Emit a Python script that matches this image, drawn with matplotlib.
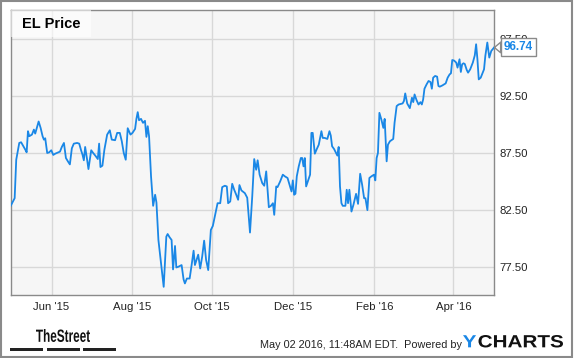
import matplotlib.pyplot as plt
import matplotlib.dates as mdates
from matplotlib.patches import Rectangle, PathPatch
from matplotlib.textpath import TextPath
from matplotlib.font_manager import FontProperties
from matplotlib.transforms import Affine2D, ScaledTranslation
import pandas as pd

# days since 2015-05-01
days = [0, 3.0, 4.2, 6.5, 7.9, 11.1, 12.1, 13.1, 14.1, 16.1, 17.6, 18.6, 19.6, 21.2, 22.7,
        24.2, 25.2, 26.2, 27.7, 29.2, 30.8, 32.3, 33.8, 37.4, 38.8, 40.4, 41.9, 43.4, 44.9,
        46.4, 47.9, 50.4, 52.0, 53.4, 54.5, 55.5, 56.5, 58.0, 59.0, 61.1, 62.6, 64.6, 66.1,
        67.1, 68.1, 69.6, 71.1, 73.2, 75.2, 76.7, 79.2, 80.8, 82.8, 84.3, 85.8, 87.3,
        88.8, 90.9, 92.4, 94.4, 95.4, 96.4, 97.4, 98.9, 100.4, 101.9, 103.0, 104.0, 105.0,
        106.5, 108.1, 109.6, 110.6, 112.1, 114.1, 116.1, 118.1, 119.1, 120.6, 122.1, 123.2,
        124.7, 125.7, 127.2, 129.7, 131.2, 132.2, 133.7, 135.8, 137.3, 138.8, 139.8, 141.3,
        142.3, 143.8, 145.3, 146.8, 148.3, 149.9, 151.9, 153.4, 155.4, 157.0, 159.0, 160.5,
        162.5, 164.0, 165.0, 166.6, 168.1, 169.6, 171.1, 172.6, 173.6, 175.1, 177.7, 179.5,
        181.6, 183.3, 184.8, 186.3, 187.4, 188.9, 190.9, 192.4, 193.9, 195.9, 197.5, 199.0,
        200.0, 201.5, 202.5, 204.5, 206.5, 208.1, 210.1, 211.6, 213.1, 214.1, 215.1, 216.1,
        217.1, 218.6, 220.2, 221.2, 222.2, 223.2, 224.2, 225.7, 227.2, 228.2, 229.2, 230.8,
        232.3, 233.8, 235.8, 236.8, 238.3, 240.3, 241.9, 242.9, 243.9, 245.4, 246.9, 247.9,
        248.9, 249.9, 251.0, 252.0, 254.0, 255.0, 256.0, 257.0, 258.6, 260.1, 262.1, 263.6,
        265.2, 266.7, 268.2, 269.2, 270.7, 272.2, 273.7, 275.7, 276.7, 277.7, 278.7, 279.8,
        281.3, 282.8, 283.8, 285.3, 286.3, 287.8, 290.3, 291.3, 292.9, 294.4, 297.4, 298.4,
        299.4, 300.9, 302.9, 304.5, 305.5, 306.5, 308.0, 309.5, 311.0, 312.0, 313.0, 314.0,
        315.6, 317.1, 318.6, 319.6, 320.6, 322.1, 323.6, 324.6, 325.6, 327.6, 330.1, 331.6,
        333.1, 334.1, 335.1, 336.6, 338.1, 339.1, 340.6, 341.6, 342.6, 343.6, 344.6, 346.1,
        347.1, 348.7, 350.7, 352.2, 353.2, 354.2, 355.2, 356.7, 358.2, 359.2, 360.2, 361.7,
        363.2, 364.7, 367]
price = [82.84, 83.51, 86.88, 88.35, 88.41, 87.76, 87.53, 89.38, 88.94, 89.08, 89.52, 89.17,
         89.58, 90.23, 89.67, 88.94, 88.64, 88.76, 87.47, 87.53, 87.71, 87.30, 87.41, 87.59,
         88.00, 88.35, 87.03, 86.74, 86.47, 87.88, 88.29, 88.35, 88.29, 87.71, 87.32, 86.83,
         88.00, 86.88, 86.06, 87.71, 87.47, 87.18, 86.94, 88.29, 86.24, 86.36, 87.76, 89.08,
         89.46, 88.64, 88.59, 89.23, 89.23, 88.50, 87.47, 86.88,
         89.64, 89.08, 89.23, 89.58, 90.46, 91.05, 90.34, 90.46, 90.11, 90.29, 88.88, 89.82,
         88.94, 85.42, 82.84, 83.81, 83.13, 79.85, 77.79, 75.74, 80.14, 80.37, 80.08, 79.85,
         77.27, 79.32, 77.44, 77.50, 77.65, 76.39, 76.04, 76.47, 76.47, 77.65, 78.91, 77.65,
         78.20, 78.56, 77.35, 78.38, 79.79, 78.09, 77.21, 80.73, 81.08, 82.19, 83.07, 83.07,
         84.48, 84.60, 84.54, 83.07, 83.22, 84.77, 84.25, 83.83, 83.37, 84.66, 84.19, 83.95,
         83.55, 80.50, 83.66, 86.94, 86.00, 86.83, 85.57, 84.83, 84.60, 85.86, 82.72, 82.84,
         83.07, 82.05, 84.54, 84.48, 84.98, 85.57, 85.42, 85.28, 84.69, 84.10, 85.07, 83.81,
         83.90, 85.42, 86.30, 87.03, 87.03, 86.30, 87.03, 84.54, 85.07, 85.57, 89.23, 89.23,
         87.41, 87.82, 88.20, 89.38, 88.79, 88.79, 88.70, 89.38, 89.00, 88.06, 87.82, 87.47,
         87.24, 88.00, 84.54, 83.07, 82.84, 82.84, 84.25, 83.07, 84.25, 82.34, 82.93, 83.89,
         83.01, 85.65, 84.69, 83.51, 83.51, 82.46, 85.28, 85.42, 85.57, 85.07, 87.03, 87.47,
         90.99, 90.40, 89.67, 90.46, 86.74, 88.20, 88.50, 88.70, 90.11, 91.58, 91.72, 91.81,
         92.02, 92.69, 91.81, 91.40, 92.31, 91.93, 92.60, 92.10, 91.72, 91.93, 91.72, 92.16,
         93.10, 93.48, 93.78, 93.69, 93.10, 94.07, 94.22, 94.16, 93.34, 93.28, 93.39, 93.57,
         94.07, 94.36, 94.45, 95.62, 95.56, 95.39, 94.95, 95.68, 94.57, 95.24, 95.33, 95.27,
         94.74, 94.51, 94.80, 95.39, 96.03, 97.00, 95.68, 93.92, 94.07, 94.51, 94.80, 95.98,
         97.15, 95.83, 96.41, 96.74]

yticks = [77.5, 82.5, 87.5, 92.5, 97.5]
ytick_labels = ['77.50', '82.50', '87.50', '92.50', '97.50']
title = 'EL Price'
last_label = '96.74'

dates = pd.Timestamp('2015-05-01') + pd.to_timedelta(days, unit='D')

plt.rcParams['font.family'] = ['Liberation Sans', 'DejaVu Sans']
fig = plt.figure(figsize=(5.75, 3.58), dpi=100)
W, H = 575, 358
ax = fig.add_axes([10.7 / W, 1 - 295.3 / H, (494.3 - 10.7) / W, (295.3 - 10) / H])
ax.set_facecolor('#f6f6f6')

ax.plot(dates, price, color='#1a87e6', lw=1.3, zorder=3)

ax.set_xlim(pd.Timestamp('2015-05-01'), pd.Timestamp('2016-05-02'))
ax.set_ylim(75, 100)
ax.set_yticks(yticks)
ax.set_yticklabels(ytick_labels)
ax.yaxis.tick_right()
ax.xaxis.set_major_locator(mdates.MonthLocator(bymonth=[2, 4, 6, 8, 10, 12]))
ax.xaxis.set_major_formatter(mdates.DateFormatter("%b '%y"))
ax.tick_params(length=0, labelsize=8.2, colors='#222222')
ax.tick_params(axis='y', pad=4)
ax.tick_params(axis='x', pad=5)
ax.grid(True, color='#d8d8d8', lw=1)
ax.set_axisbelow(True)
for s in ax.spines.values():
    s.set_color('#8a8a8a')
    s.set_linewidth(1)

# title box
ax.add_patch(Rectangle((0, 1 - 26.7 / 285.3), 80 / 483.6, 26.7 / 285.3, transform=ax.transAxes,
                       facecolor='white', alpha=0.6, edgecolor='none', zorder=4))
ax.text(11 / 483.6, 1 - 14 / 285.3, title, transform=ax.transAxes, fontsize=10.5,
        fontweight='bold', va='center', ha='left', color='black', zorder=5)

# last value flag, with a small chevron pointing at the line end
ax.annotate(last_label, xy=(dates[-1], price[-1]), xytext=(7, 0), textcoords='offset points',
            ha='left', va='center', fontsize=8.5, fontweight='bold', color='#1a87e6',
            annotation_clip=False, zorder=6,
            bbox=dict(boxstyle='square,pad=0.25', facecolor='white', edgecolor='#8a8a8a', lw=1))
chevron = [(-0.6, 0), (0.6, 1), (0.6, -1), (-0.6, 0)]
shift = ax.transData + ScaledTranslation(3 / 100, 0, fig.dpi_scale_trans)
ax.plot([dates[-1]], [price[-1]], marker=chevron, ms=7.5, mfc='white', mec='#8a8a8a', mew=1,
        clip_on=False, zorder=7, transform=shift)


# logos: text squeezed into a pixel box (x0..x1, top..bottom measured from the top)
def fit_text(parts, colors, x0, x1, top, bottom, weight='bold', gap=1.5):
    prop = FontProperties(family='Liberation Sans', weight=weight)
    paths, x = [], 0
    for s in parts:
        p = TextPath((x, 0), s, size=20, prop=prop)
        paths.append(p)
        x = p.get_extents().x1 + gap
    ext = [p.get_extents() for p in paths]
    xmin, xmax = ext[0].x0, ext[-1].x1
    ymin, ymax = min(e.y0 for e in ext), max(e.y1 for e in ext)
    tr = (Affine2D().translate(-xmin, -ymin)
          .scale((x1 - x0) / (xmax - xmin), (bottom - top) / (ymax - ymin))
          .translate(x0, H - bottom))
    for p, c in zip(paths, colors):
        fig.add_artist(PathPatch(p, transform=tr, facecolor=c, edgecolor='none'))


fit_text(['TheStreet'], ['#111111'], 36, 90, 329, 342, gap=0)
for x0 in [10, 47, 83]:
    fig.patches.append(Rectangle((x0 / W, 1 - 350.5 / H), 32.5 / W, 3 / H,
                                 transform=fig.transFigure, facecolor='#222222', edgecolor='none'))
fig.text(260 / W, 1 - 345 / H, 'May 02 2016, 11:48AM EDT.  Powered by', fontsize=7.8,
         color='#222222', ha='left', va='center')
fit_text(['Y', 'CHARTS'], ['#1a87e6', '#111111'], 463, 563, 335, 347.5, gap=1.5)

fig.patches.append(Rectangle((1 / W, 1 / H), 571 / W, 356 / H, transform=fig.transFigure,
                             facecolor='none', edgecolor='#8a8a8a', lw=1.5))

fig.savefig('out.png', dpi=100)
